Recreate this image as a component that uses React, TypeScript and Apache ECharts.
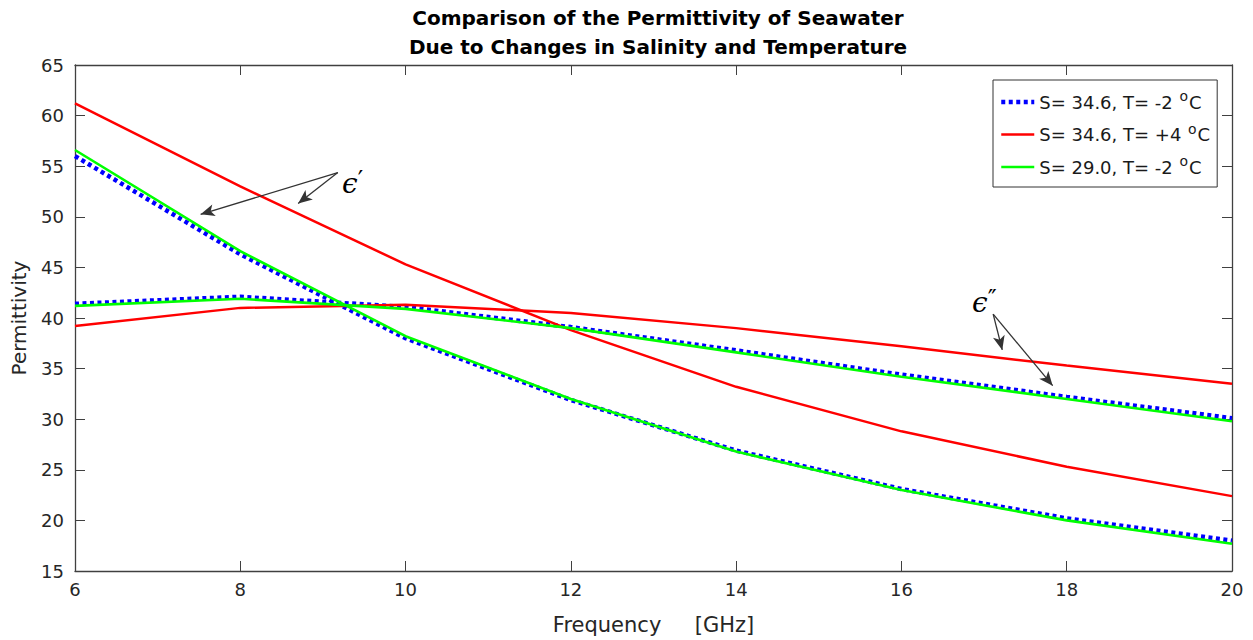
import React, { useEffect, useRef } from "react";
import * as echarts from "echarts";

const freq = [6, 8, 10, 12, 14, 16, 18, 20];

// S=34.6, T=-2 °C
const blueReal = [56.0, 46.3, 38.0, 31.9, 26.9, 23.1, 20.2, 18.0];
const blueImag = [41.4, 42.1, 41.1, 39.1, 36.8, 34.4, 32.2, 30.1];
// S=34.6, T=+4 °C
const redReal = [61.2, 53.0, 45.3, 38.8, 33.2, 28.8, 25.3, 22.4];
const redImag = [39.2, 41.0, 41.3, 40.5, 39.0, 37.2, 35.3, 33.5];
// S=29.0, T=-2 °C
const greenReal = [56.6, 46.6, 38.2, 32.0, 26.8, 23.0, 20.0, 17.7];
const greenImag = [41.2, 41.9, 40.9, 39.0, 36.6, 34.2, 32.0, 29.8];

const legendNames = ["S= 34.6, T= -2 ", "S= 34.6, T= +4 ", "S= 29.0, T= -2 "];

// arrow annotations in data coordinates [tail, head]
const arrowsReal = [
  [[9.18, 54.37], [7.52, 50.24]],
  [[9.18, 54.37], [8.7, 51.32]],
];
const arrowsImag = [
  [[17.11, 40.39], [17.22, 36.85]],
  [[17.11, 40.39], [17.83, 33.31]],
];

const pairs = (xs: number[], ys: number[]) => xs.map((x, i) => [x, ys[i]]);

export default function App() {
  const ref = useRef<HTMLDivElement>(null);
  useEffect(() => {
    if (!ref.current) return;
    const chart = echarts.init(ref.current, undefined, { renderer: "svg" });
    const axisColor = "#262626";
    const font = "'DejaVu Sans', sans-serif";
    const blue = "#0000ff";
    const red = "#ff0000";
    const green = "#00ff00";
    const frame = "#404040";

    const arrowLines = (arr: number[][][]) =>
      arr.map((a) => [
        { coord: a[0], symbol: "none" },
        { coord: a[1], symbol: "arrow" },
      ]);

    const annotationSeries = {
      type: "line",
      name: "__annot",
      data: [],
      silent: true,
      markLine: {
        silent: true,
        animation: false,
        symbolSize: [9, 14],
        lineStyle: { color: "#333333", width: 1.3, type: "solid" },
        label: { show: false },
        data: [...arrowLines(arrowsReal), ...arrowLines(arrowsImag)],
      },
    };

    const mkSeries = (
      name: string,
      ys: number[],
      color: string,
      width: number,
      dotted: boolean,
      z: number
    ) => ({
      type: "line",
      name,
      data: pairs(freq, ys),
      showSymbol: false,
      symbol: "none",
      z,
      lineStyle: {
        color,
        width,
        type: dotted ? [4, 3.5] : "solid",
        cap: "butt",
      },
      itemStyle: { color },
    });

    const axisCommon = {
      axisLine: { show: true, lineStyle: { color: frame, width: 1.3 } },
      axisTick: { show: true, inside: true, length: 10, lineStyle: { color: frame } },
      splitLine: { show: false },
    };

    const epsRich = {
      e: { fontFamily: "'DejaVu Serif', serif", fontSize: 28, fontStyle: "italic", color: "#333333", lineHeight: 30 },
      p: { fontFamily: "'DejaVu Sans', sans-serif", fontSize: 24, color: "#333333", verticalAlign: "top", padding: [0, 0, 22, 0], lineHeight: 30 },
    };

    const option: any = {
      animation: false,
      backgroundColor: "#ffffff",
      title: {
        text: "Comparison of the Permittivity of Seawater\nDue to Changes in Salinity and Temperature",
        left: 653,
        top: -2,
        textAlign: "center",
        textStyle: {
          fontFamily: font,
          fontWeight: "bold",
          fontSize: 20,
          color: "#000000",
          lineHeight: 29,
        },
      },
      legend: {
        data: legendNames,
        orient: "vertical",
        left: 993,
        top: 80,
        padding: [9, 7, 7, 6],
        itemGap: 6.5,
        itemWidth: 33,
        itemHeight: 26,
        backgroundColor: "#ffffff",
        borderColor: "#333333",
        borderWidth: 1,
        itemStyle: { opacity: 0 },
        lineStyle: { width: "inherit" },
        formatter: (n: string) => `${n}{s|o}C`,
        textStyle: {
          fontFamily: font,
          fontSize: 18,
          lineHeight: 26,
          color: "#1a1a1a",
          rich: {
            s: { fontSize: 14, lineHeight: 26, verticalAlign: "top", padding: [0, 1, 9, 1], fontFamily: font, color: "#1a1a1a" },
          },
        },
      },
      grid: { left: 75, right: 21, top: 65, bottom: 67, containLabel: false },
      xAxis: [
        {
          type: "value",
          min: 6,
          max: 20,
          interval: 2,
          name: "Frequency     [GHz]",
          nameLocation: "middle",
          nameGap: 43,
          nameTextStyle: { fontFamily: font, fontSize: 21, color: axisColor },
          ...axisCommon,
          axisLabel: { fontFamily: font, fontSize: 18, color: axisColor, margin: 9 },
        },
        {
          type: "value",
          position: "top",
          min: 6,
          max: 20,
          interval: 2,
          ...axisCommon,
          axisLabel: { show: false },
        },
      ],
      yAxis: [
        {
          type: "value",
          min: 15,
          max: 65,
          interval: 5,
          name: "Permittivity",
          nameLocation: "middle",
          nameGap: 46,
          nameTextStyle: { fontFamily: font, fontSize: 20, color: axisColor },
          ...axisCommon,
          axisLabel: { fontFamily: font, fontSize: 18, color: axisColor, margin: 11 },
        },
        {
          type: "value",
          position: "right",
          min: 15,
          max: 65,
          interval: 5,
          ...axisCommon,
          axisLabel: { show: false },
        },
      ],
      series: [
        mkSeries(legendNames[0], blueReal, blue, 4.5, true, 2),
        mkSeries(legendNames[1], redReal, red, 2.5, false, 3),
        mkSeries(legendNames[2], greenReal, green, 2.6, false, 4),
        mkSeries(legendNames[0], blueImag, blue, 4.5, true, 2),
        mkSeries(legendNames[1], redImag, red, 2.5, false, 3),
        mkSeries(legendNames[2], greenImag, green, 2.6, false, 4),
        annotationSeries,
      ],
      graphic: [
        {
          type: "text",
          left: 342,
          top: 168,
          style: { text: "{e|ϵ}{p|′}", rich: epsRich },
        },
        {
          type: "text",
          left: 972,
          top: 287,
          style: { text: "{e|ϵ}{p|″}", rich: epsRich },
        },
      ],
    };
    chart.setOption(option);
    return () => chart.dispose();
  }, []);
  return <div ref={ref} style={{ width: 1253, height: 640, position: "absolute", left: 0, top: 0 }} />;
}
